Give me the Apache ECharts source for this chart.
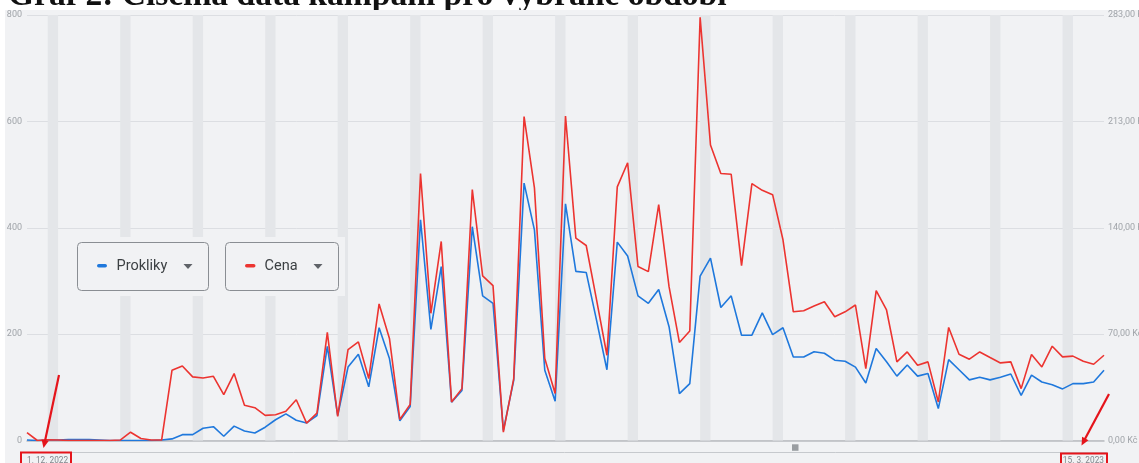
<!DOCTYPE html>
<html>
<head>
<meta charset="utf-8">
<script src="https://cdn.jsdelivr.net/npm/echarts@6/dist/echarts.min.js"></script>
<style>
  html, body { margin: 0; padding: 0; background: #fff; }
  #chart { width: 1139px; height: 463px; }
</style>
</head>
<body>
<div id="chart"></div>
<script>
// Daily campaign data, 1. 12. 2022 – 15. 3. 2023
const startDate = [2022, 12, 1];
const dayCount = 105;

// Prokliky (clicks) per day – left axis
const prokliky = [
  1, 0, 1, 1, 2, 2, 2, 1, 0, 0, 0, 0, 0, 1, 3, 11, 11, 23, 26, 8,
  27, 18, 14, 25, 39, 50, 38, 33, 47, 177, 47, 138, 162, 101, 212, 154, 37, 64, 415, 209,
  327, 72, 94, 402, 272, 258, 19, 113, 484, 396, 132, 74, 445, 318, 316, 226, 133, 373, 347, 272,
  258, 284, 214, 88, 107, 309, 343, 250, 272, 198, 198, 240, 199, 212, 157, 157, 167, 164, 151, 149,
  138, 108, 173, 148, 121, 142, 121, 126, 60, 152, 133, 114, 119, 114, 119, 125, 85, 123, 110, 105,
  97, 107, 107, 110, 132
];

// Cena (cost, Kč) per day – right axis
const cena = [
  5.3, 0, 0.5, 0.3, 0, 0, 0, 0, 0, 0.3, 5.5, 1.3, 0.3, 0.3, 46.7, 49.6, 42.3, 41.6, 42.7, 30.5,
  44.5, 23.4, 21.8, 16.7, 17.1, 19.4, 27.1, 11.6, 18.2, 71.9, 16.0, 60.5, 65.6, 41.2, 90.8, 67.9, 14.0, 24.0, 177.6, 84.6,
  132.4, 25.6, 34.5, 166.9, 109.5, 103.0, 5.6, 41.2, 215.4, 168.0, 54.5, 31.2, 215.8, 134.6, 129.7, 93.5, 56.7, 168.7, 184.7, 115.7,
  112.3, 156.9, 102.3, 65.2, 72.8, 281.5, 196.5, 177.6, 177.1, 116.3, 170.9, 166.4, 163.5, 133.5, 85.6, 86.3, 89.4, 92.3, 82.3, 85.6,
  90.1, 47.8, 99.7, 86.8, 52.3, 58.9, 50.1, 52.3, 25.6, 75.2, 57.4, 54.1, 58.9, 55.2, 51.6, 52.3, 34.5, 57.2, 48.9, 62.7,
  55.6, 56.1, 52.7, 50.7, 56.7
];

// Tick labels
const leftTicks = [0, 200, 400, 600, 800];
const rightTickLabels = ['0,00 Kč', '70,00 Kč', '140,00 Kč', '213,00 Kč', '283,00 Kč'];
const rightMax = 283;

// Build date categories and weekend (Sat–Sun) bands
const dates = [];
const weekendBands = [];
{
  const d = new Date(startDate[0], startDate[1] - 1, startDate[2]);
  for (let i = 0; i < dayCount; i++) {
    dates.push(d.getDate() + '. ' + (d.getMonth() + 1) + '. ' + d.getFullYear());
    if (d.getDay() === 6 && i + 1 < dayCount) weekendBands.push([i, i + 1]);
    d.setDate(d.getDate() + 1);
  }
}

const BG = '#f1f2f4';
const BAND = '#e4e6e9';
const BLUE = '#1f78dc';
const RED = '#ec3430';
const ANNOT = '#e5141b';

function arrow(x1, y1, x2, y2) {
  const dx = x2 - x1, dy = y2 - y1, len = Math.hypot(dx, dy);
  const ux = dx / len, uy = dy / len, px = -uy, py = ux;
  const hl = 8, hw = 3.6;
  const bx = x2 - ux * hl, by = y2 - uy * hl;
  return [
    { type: 'line', z: 120, shape: { x1: x1, y1: y1, x2: bx + ux * 1, y2: by + uy * 1 },
      style: { stroke: ANNOT, lineWidth: 2.2 } },
    { type: 'polygon', z: 120, shape: { points: [[x2, y2], [bx + px * hw, by + py * hw], [bx - px * hw, by - py * hw]] },
      style: { fill: ANNOT } }
  ];
}

const chart = echarts.init(document.getElementById('chart'), null, { renderer: 'canvas' });

const option = {
  backgroundColor: BG,
  animation: false,
  grid: { left: 27, right: 35, top: 15, bottom: 22.5, containLabel: false, outerBoundsMode: 'none' },
  xAxis: {
    type: 'category',
    data: dates,
    boundaryGap: false,
    axisTick: { show: false },
    axisLine: { lineStyle: { color: '#b9bcc0', width: 1.5 } },
    splitLine: { show: false },
    axisLabel: {
      interval: (i) => i === 0 || i === dayCount - 1,
      showMinLabel: true,
      showMaxLabel: true,
      alignMinLabel: 'left',
      alignMaxLabel: 'right',
      margin: 16,
      fontSize: 8.3,
      fontFamily: 'Roboto',
      color: '#80868b'
    }
  },
  yAxis: [
    {
      type: 'value',
      min: leftTicks[0],
      max: leftTicks[leftTicks.length - 1],
      interval: leftTicks[1] - leftTicks[0],
      axisLine: { show: false },
      axisTick: { show: false },
      splitLine: { lineStyle: { color: '#dcdee2', width: 1 } },
      axisLabel: { margin: 5, fontSize: 9, fontFamily: 'Roboto', color: '#a0a4a9' }
    },
    {
      type: 'value',
      min: 0,
      max: rightMax,
      interval: rightMax / 4,
      axisLine: { show: false },
      axisTick: { show: false },
      splitLine: { show: false },
      axisLabel: {
        margin: 4,
        fontSize: 9,
        fontFamily: 'Roboto',
        color: '#a0a4a9',
        align: 'left',
        formatter: (v) => rightTickLabels[Math.round(v / (rightMax / 4))]
      }
    }
  ],
  series: [
    {
      name: 'Prokliky',
      type: 'line',
      yAxisIndex: 0,
      data: prokliky,
      symbol: 'none',
      lineStyle: { color: BLUE, width: 1.6 },
      z: 3,
      markArea: {
        silent: true,
        itemStyle: { color: BAND },
        data: weekendBands.map(([a, b]) => [{ xAxis: dates[a] }, { xAxis: dates[b] }])
      }
    },
    {
      name: 'Cena',
      type: 'line',
      yAxisIndex: 1,
      data: cena,
      symbol: 'none',
      lineStyle: { color: RED, width: 1.6 },
      z: 4
    }
  ],
  graphic: [
    // heading strip (kept beneath the axes so tick labels stay visible)
    { type: 'rect', z: -3, shape: { x: 0, y: 0, width: 1139, height: 10 }, style: { fill: '#fff' } },
    { type: 'rect', z: -3, shape: { x: 0, y: 0, width: 5, height: 463 }, style: { fill: '#fff' } },
    { type: 'text', z: -2, x: 8, y: -4,
      style: { text: 'Graf 2: Číselná data kampaní pro vybrané období', font: 'bold 33.6px "Liberation Serif"',
               fill: '#111', verticalAlign: 'middle', align: 'left' } },
    { type: 'rect', z: -1, shape: { x: 5, y: 10, width: 1134, height: 5 }, style: { fill: BG } },

    // series selector boxes
    { type: 'rect', z: 100, shape: { x: 72, y: 237, width: 273, height: 59 }, style: { fill: BG } },
    { type: 'rect', z: 101, shape: { x: 77.5, y: 242.5, width: 131, height: 48, r: 4 },
      style: { fill: BG, stroke: '#8a8e93', lineWidth: 1 } },
    { type: 'rect', z: 102, shape: { x: 97, y: 264, width: 10, height: 3.6, r: 1.8 }, style: { fill: BLUE } },
    { type: 'text', z: 102, x: 116.5, y: 266.5,
      style: { text: 'Prokliky', font: '14.5px Roboto', fill: '#3c4043', verticalAlign: 'middle' } },
    { type: 'polygon', z: 102, shape: { points: [[183.5, 264], [192.5, 264], [188, 269]] }, style: { fill: '#5f6368' } },

    { type: 'rect', z: 101, shape: { x: 225.5, y: 242.5, width: 113, height: 48, r: 4 },
      style: { fill: BG, stroke: '#8a8e93', lineWidth: 1 } },
    { type: 'rect', z: 102, shape: { x: 245, y: 264, width: 10.5, height: 3.6, r: 1.8 }, style: { fill: RED } },
    { type: 'text', z: 102, x: 264.5, y: 266.5,
      style: { text: 'Cena', font: '14.5px Roboto', fill: '#3c4043', verticalAlign: 'middle' } },
    { type: 'polygon', z: 102, shape: { points: [[313.5, 264], [322.5, 264], [318, 269]] }, style: { fill: '#5f6368' } },

    // range navigator strip
    { type: 'line', z: 90, shape: { x1: 22, y1: 452.5, x2: 1107, y2: 452.5 }, style: { stroke: '#c6c9cd', lineWidth: 1 } },
    { type: 'rect', z: 91, shape: { x: 792, y: 444.3, width: 6.5, height: 6.5 }, style: { fill: '#9a9da1' } },

    // highlighted start / end dates
    { type: 'rect', z: 110, shape: { x: 21, y: 452.5, width: 50, height: 15 }, style: { fill: 'none', stroke: ANNOT, lineWidth: 2 } },
    { type: 'rect', z: 110, shape: { x: 1061, y: 453.5, width: 46, height: 15 }, style: { fill: 'none', stroke: ANNOT, lineWidth: 2 } },
    ...arrow(59, 375, 43.5, 448),
    ...arrow(1109, 394, 1081.5, 445.5)
  ]
};

chart.setOption(option);
</script>
</body>
</html>
